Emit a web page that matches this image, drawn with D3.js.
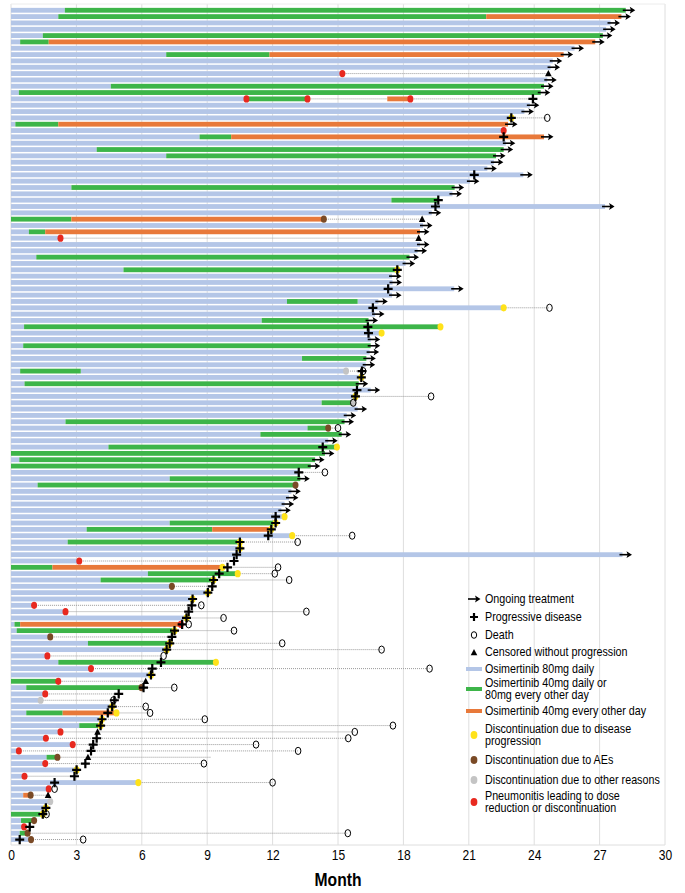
<!DOCTYPE html>
<html><head><meta charset="utf-8">
<script src="https://cdn.jsdelivr.net/npm/d3@7"></script>
<style>body{margin:0;background:#fff}svg{display:block}text{font-family:"Liberation Sans",Arial,sans-serif;fill:#000}</style>
</head><body><svg id="c" width="685" height="893"></svg>
<script>
const nRows = 132;
const xTicks = [0,3,6,9,12,15,18,21,24,27,30];
const xTitle = "Month";

// [row, start, end]
const blueSegs = [[0,0,2.47],[1,0,2.17],[2,0,27.5],[3,0,27.3],[4,0,1.46],[5,0,0.42],[6,0,25.85],[7,0,7.12],[8,0,24.85],[9,0,24.75],[10,0,15.2],[11,0,24.6],[12,0,4.58],[13,0,0.36],[14,0,10.8],[15,0,23.8],[16,0,23.55],[17,0,22.95],[18,0,0.2],[19,0,22.6],[20,0,8.65],[21,0,22.7],[22,0,3.93],[23,0,7.12],[24,0,22.15],[25,0,21.85],[26,0,23.5],[27,0,21.05],[28,0,2.77],[29,0,20.25],[30,0,17.45],[31,0,27.25],[32,0,19.3],[34,0,18.9],[35,0,0.82],[36,0,2.27],[37,0,18.76],[38,0,18.65],[39,0,1.16],[40,0,18.1],[41,0,5.16],[42,0,17.48],[43,0,17.5],[44,0,20.33],[45,0,17.48],[46,0,12.66],[46,15.9,16.85],[47,0,22.6],[48,0,16.7],[49,0,11.5],[50,0,0.6],[51,0,17.0],[52,0,16.5],[53,0,0.56],[54,0,16.45],[55,0,13.35],[56,0,16.27],[57,0,0.42],[57,3.2,15.37],[58,0,16.07],[59,0,0.62],[60,0,16.5],[61,0,15.8],[62,0,14.25],[63,0,15.9],[64,0,15.4],[65,0,2.5],[66,0,13.6],[67,0,11.44],[68,0,14.55],[69,0,4.47],[71,0,0.38],[73,0,13.2],[74,0,7.28],[75,0,1.22],[76,0,12.86],[77,0,12.75],[78,0,12.55],[79,0,12.4],[80,0,12.55],[81,0,7.28],[82,0,3.47],[83,0,12.9],[84,0,2.6],[85,0,10.5],[86,0,28.05],[87,0,3.13],[89,0,6.28],[90,0,4.11],[91,0,7.38],[92,0,9.03],[93,0,8.33],[94,0,1.06],[95,0,2.5],[96,0,8.05],[97,0,0.16],[98,0,0.26],[99,0,1.8],[100,0,3.53],[101,0,7.14],[102,0,1.67],[103,0,2.17],[104,0,3.67],[105,0,6.42],[107,0,0.7],[108,0,1.57],[109,0,1.36],[110,0,4.64],[111,0,0.7],[112,0,4.17],[113,0,3.13],[114,0,2.27],[115,0,1.6],[116,0,2.83],[117,0,0.36],[118,0,1.63],[119,0,1.57],[120,0,3.01],[121,0,0.62],[122,0,5.84],[123,0,1.73],[124,0,0.56],[125,0,1.8],[126,0,1.6],[128,0,0.46],[129,0,0.6],[130,0,0.4],[131,0,0.92]];
const greenSegs = [[0,2.47,28.2],[1,2.17,21.8],[4,1.46,27.15],[5,0.42,1.73],[7,7.12,11.86],[12,4.58,24.45],[13,0.36,24.3],[14,10.8,13.6],[18,0.2,2.17],[20,8.65,10.1],[22,3.93,22.6],[23,7.12,22.25],[28,2.77,20.35],[30,17.45,19.6],[33,0,2.77],[35,0.82,1.57],[39,1.16,18.28],[41,5.16,17.72],[46,12.66,15.9],[49,11.5,16.4],[50,0.6,19.7],[53,0.56,16.5],[55,13.35,16.3],[57,0.42,3.2],[59,0.62,15.95],[62,14.25,15.7],[65,2.5,15.3],[66,13.6,14.55],[67,11.44,15.17],[69,4.47,14.9],[70,0,14.4],[71,0.38,13.95],[72,0,13.75],[74,7.28,13.27],[75,1.22,13.05],[81,7.28,12.14],[82,3.47,9.23],[84,2.6,10.5],[88,0,1.9],[89,6.28,10.4],[90,4.11,9.29],[97,0.16,0.42],[98,0.26,7.5],[100,3.53,7.28],[103,2.17,9.4],[106,0,2.17],[107,0.7,5.98],[111,0.7,2.37],[113,3.13,4.11],[118,1.63,2.13],[127,0,1.46],[128,0.46,1.06],[130,0.4,0.76]];
const orangeSegs = [[1,21.8,28.0],[5,1.73,26.8],[7,11.86,25.35],[14,17.26,18.32],[18,2.17,22.8],[20,10.1,24.45],[33,2.77,14.35],[35,1.57,18.76],[82,9.23,11.94],[88,1.9,9.7],[97,0.42,7.79],[111,2.37,4.84],[124,0.56,0.9]];
// [row, from, to]
const followUp = [[10,15.2,24.65],[14,13.6,17.26],[14,18.32,23.94],[17,22.95,24.6],[33,14.35,18.86],[36,2.27,18.7],[47,22.6,24.7],[57,15.37,16.15],[61,15.8,19.27],[66,14.55,15.0],[73,13.2,14.4],[83,12.9,15.65],[84,10.5,13.15],[87,3.13,10.23],[88,9.93,12.25],[89,10.4,12.1],[90,9.29,12.76],[91,7.38,9.23],[94,1.06,8.73],[95,2.5,13.55],[96,8.05,9.75],[97,7.85,8.15],[98,7.5,10.23],[99,1.8,7.38],[100,7.28,12.44],[101,7.14,17.0],[102,1.67,7.0],[104,3.67,19.2],[106,2.17,6.18],[107,6.08,7.49],[108,1.57,4.94],[109,1.36,4.74],[110,4.64,6.18],[111,4.84,6.38],[112,4.17,8.89],[113,4.11,17.52],[114,2.27,15.77],[115,1.6,15.47],[116,2.83,11.24],[117,0.36,13.17],[118,2.13,9.15],[119,1.57,8.85],[121,0.62,2.91],[122,5.84,12.0],[124,0.9,1.7],[130,0.76,15.45],[131,0.92,3.31]];
// [row, month]
const ongoing = [[0,28.2],[1,28.0],[2,27.5],[3,27.3],[4,27.15],[5,26.8],[6,25.85],[7,25.35],[8,24.85],[9,24.75],[11,24.6],[12,24.45],[13,24.3],[15,23.8],[16,23.55],[18,22.8],[20,24.45],[21,22.7],[22,22.6],[23,22.25],[24,22.15],[25,21.85],[26,23.5],[27,21.05],[28,20.35],[29,20.25],[31,27.25],[32,19.3],[34,18.9],[35,18.76],[37,18.76],[38,18.65],[39,18.28],[40,18.1],[42,17.48],[43,17.5],[44,20.33],[45,17.48],[46,16.85],[48,16.7],[49,16.4],[52,16.5],[53,16.5],[54,16.45],[55,16.3],[56,16.27],[59,15.95],[60,16.5],[63,15.9],[64,15.4],[65,15.3],[67,15.17],[68,14.55],[70,14.4],[71,13.95],[72,13.75],[74,13.27],[76,12.86],[77,12.75],[78,12.55],[79,12.4],[86,28.05]];
const progression = [[14,23.94],[17,22.95],[20,22.6],[26,21.25],[30,19.6],[31,19.47],[41,17.72],[44,17.3],[47,16.6],[50,16.37],[51,16.4],[57,16.1],[58,16.07],[60,15.87],[61,15.8],[69,14.3],[73,13.2],[80,12.14],[81,12.14],[82,11.94],[83,11.8],[84,10.5],[85,10.5],[86,10.35],[87,10.23],[88,9.93],[89,9.55],[90,9.29],[91,9.23],[92,9.03],[93,8.33],[94,8.29],[95,8.15],[96,8.05],[97,7.85],[98,7.5],[99,7.38],[100,7.28],[101,7.14],[103,6.88],[104,6.48],[105,6.42],[107,6.08],[108,4.94],[109,4.74],[110,4.64],[111,4.44],[112,4.17],[113,4.11],[115,3.93],[116,3.77],[117,3.67],[119,3.41],[120,3.01],[121,2.91],[122,2.0],[126,1.6],[127,1.46],[129,0.86],[131,0.4]];
const deaths = [[17,24.6],[47,24.7],[57,16.15],[61,19.27],[62,15.7],[66,15.0],[73,14.4],[83,15.65],[84,13.15],[88,12.25],[89,12.1],[90,12.76],[94,8.73],[95,13.55],[96,9.75],[97,8.15],[98,10.23],[100,12.44],[101,17.0],[102,7.0],[104,19.2],[107,7.49],[109,4.7],[110,6.18],[111,6.38],[112,8.89],[113,17.52],[114,15.77],[115,15.47],[116,11.24],[117,13.17],[119,8.85],[122,12.0],[123,2.0],[127,1.63],[130,15.45],[131,3.31]];
const censored = [[10,24.65],[33,18.86],[36,18.7],[106,6.18],[114,3.97],[118,3.53],[124,1.7]];
const discPD = [[17,22.95],[41,17.72],[47,22.6],[50,19.7],[51,17.0],[58,16.07],[61,15.8],[69,14.95],[80,12.55],[81,12.14],[82,11.94],[83,12.9],[84,10.5],[85,10.5],[88,9.7],[89,10.4],[90,9.29],[92,9.03],[93,8.33],[96,8.05],[98,7.5],[100,7.28],[101,7.14],[103,9.4],[105,6.42],[110,4.64],[111,4.84],[112,4.17],[113,4.11],[120,3.01],[122,5.84],[126,1.6],[127,1.46]];
const discAE = [[33,14.35],[66,14.55],[75,13.05],[91,7.38],[99,1.8],[107,5.98],[118,2.13],[124,0.9],[128,1.06],[130,0.76],[131,0.92]];
const discOther = [[57,15.37],[62,15.7],[109,1.36],[125,1.8]];
const pneumonitis = [[10,15.2],[14,10.8],[14,13.6],[14,18.32],[19,22.6],[36,2.27],[87,3.13],[94,1.06],[95,2.5],[97,7.79],[102,1.67],[104,3.67],[106,2.17],[108,1.57],[114,2.27],[115,1.6],[116,2.83],[117,0.36],[119,1.57],[121,0.62],[123,1.73],[129,0.6]];

const legendLabels = [["Ongoing treatment"],["Progressive disease"],["Death"],["Censored without progression"],["Osimertinib 80mg daily"],["Osimertinib 40mg daily or","80mg every other day"],["Osimertinib 40mg every other day"],["Discontinuation due to disease","progression"],["Discontinuation due to AEs"],["Discontinuation due to other reasons"],["Pneumonitis leading to dose","reduction or discontinuation"]];
const legendKinds = ["arrow","plus","death","tri","blue","green","orange","yellow","brown","grey","red"];

const C = {blue:"#b4c6e7",green:"#3db549",orange:"#e8793a",yellow:"#ffe21a",brown:"#7a4a26",grey:"#c4c4c4",red:"#e8291f"};

const svg = d3.select("#c");
const x = d3.scaleLinear().domain([0,30]).range([11,665]);
const y = d3.scaleBand().domain(d3.range(nRows)).range([7.1,842.7]).paddingInner(0.24).paddingOuter(0.12);
const cy = r => y(r) + y.bandwidth()/2;
const plotTop = 4, plotBottom = 845;

// grid
svg.append("g").selectAll("line").data(xTicks).join("line")
  .attr("x1",d=>x(d)).attr("x2",d=>x(d)).attr("y1",plotTop).attr("y2",plotBottom)
  .attr("stroke","#dedede").attr("stroke-width",1);
svg.append("line").attr("x1",x(0)).attr("x2",x(30)).attr("y1",plotBottom).attr("y2",plotBottom).attr("stroke","#dedede");
svg.append("line").attr("x1",x(0)).attr("x2",x(30)).attr("y1",plotTop).attr("y2",plotTop).attr("stroke","#ececec");

// axis
const ax = svg.append("g").attr("transform",`translate(0,${plotBottom})`)
  .call(d3.axisBottom(x).tickValues(xTicks).tickSize(0).tickPadding(5).tickFormat(d3.format("d")));
ax.select(".domain").remove();
ax.selectAll("text").attr("font-size",14).attr("font-family","Liberation Sans, Arial, sans-serif").attr("transform","scale(0.86,1)");
svg.append("text").attr("transform",`translate(${(x(0)+x(30))/2},886) scale(0.87,1)`)
  .attr("text-anchor","middle").attr("font-size",18).attr("font-weight","bold").text(xTitle);

// bars
function bars(data,color){
  svg.append("g").selectAll("rect").data(data).join("rect")
    .attr("x",d=>x(d[1])).attr("width",d=>Math.max(0,x(d[2])-x(d[1])))
    .attr("y",d=>y(d[0])).attr("height",y.bandwidth()).attr("fill",color);
}
bars(blueSegs,C.blue); bars(greenSegs,C.green); bars(orangeSegs,C.orange);

// follow-up dotted lines
svg.append("g").selectAll("line").data(followUp).join("line")
  .attr("x1",d=>x(d[1])).attr("x2",d=>x(d[2])).attr("y1",d=>cy(d[0])).attr("y2",d=>cy(d[0]))
  .attr("stroke","#999").attr("stroke-width",1).attr("stroke-dasharray","1,1");

function dots(data,color){
  svg.append("g").selectAll("ellipse").data(data).join("ellipse")
    .attr("cx",d=>x(d[1])).attr("cy",d=>cy(d[0])).attr("rx",3).attr("ry",3.6).attr("fill",color);
}
dots(discPD,C.yellow); dots(discAE,C.brown); dots(discOther,C.grey); dots(pneumonitis,C.red);

// death circles
svg.append("g").selectAll("ellipse").data(deaths).join("ellipse")
  .attr("cx",d=>x(d[1])).attr("cy",d=>cy(d[0])).attr("rx",2.8).attr("ry",3.6)
  .attr("fill","none").attr("stroke","#000").attr("stroke-width",1);

// progression plus
const plusPath = (px,py)=>`M${px-4.5},${py}H${px+4.5}M${px},${py-4.6}V${py+4.6}`;
svg.append("g").selectAll("path").data(progression).join("path")
  .attr("d",d=>plusPath(x(d[1]),cy(d[0]))).attr("stroke","#000").attr("stroke-width",2.2).attr("fill","none");

// ongoing arrows
const arrowLine = (px,py)=>`M${px-3},${py}H${px+6}`;
const arrowHead = (px,py)=>`M${px+9.5},${py}L${px+4},${py-3.4}L${px+5.2},${py}L${px+4},${py+3.4}Z`;
const ag = svg.append("g");
ag.selectAll("path.l").data(ongoing).join("path").attr("class","l")
  .attr("d",d=>arrowLine(x(d[1]),cy(d[0]))).attr("stroke","#000").attr("stroke-width",1.6);
ag.selectAll("path.h").data(ongoing).join("path").attr("class","h")
  .attr("d",d=>arrowHead(x(d[1]),cy(d[0]))).attr("fill","#000");

// censored triangles
const triPath = (px,py)=>`M${px},${py-3.6}L${px+3.3},${py+2.8}L${px-3.3},${py+2.8}Z`;
svg.append("g").selectAll("path").data(censored).join("path")
  .attr("d",d=>triPath(x(d[1]),cy(d[0]))).attr("fill","#000");

// legend
const legY = [599,617,635,652,669,689,711,735,760,780,802];
const lg = svg.append("g");
legendKinds.forEach((k,i)=>{
  const yy = legY[i], ix = 474;
  if(k==="arrow"){
    lg.append("path").attr("d",`M${ix-6},${yy}H${ix+3}`).attr("stroke","#000").attr("stroke-width",1.6);
    lg.append("path").attr("d",arrowHead(ix-3,yy)).attr("fill","#000");
  } else if(k==="plus"){
    lg.append("path").attr("d",`M${ix-4},${yy}H${ix+4}M${ix},${yy-4}V${yy+4}`).attr("stroke","#000").attr("stroke-width",2.2);
  } else if(k==="death"){
    lg.append("ellipse").attr("cx",ix).attr("cy",yy).attr("rx",2.7).attr("ry",3.3).attr("fill","none").attr("stroke","#000");
  } else if(k==="tri"){
    lg.append("path").attr("d",triPath(ix,yy+0.5)).attr("fill","#000");
  } else if(k==="blue"||k==="green"||k==="orange"){
    lg.append("line").attr("x1",466).attr("x2",482).attr("y1",yy).attr("y2",yy).attr("stroke",C[k]).attr("stroke-width",4);
  } else {
    lg.append("ellipse").attr("cx",ix).attr("cy",yy).attr("rx",3.4).attr("ry",3.9).attr("fill",C[k]);
  }
  const lines = legendLabels[i];
  const n = lines.length;
  lines.forEach((t,j)=>{
    const by = yy + 4.2 + (j - (n-1)/2)*12;
    lg.append("text").attr("transform",`translate(485,${by}) scale(0.88,1)`)
      .attr("font-size",12.2).text(t);
  });
});
</script></body></html>
